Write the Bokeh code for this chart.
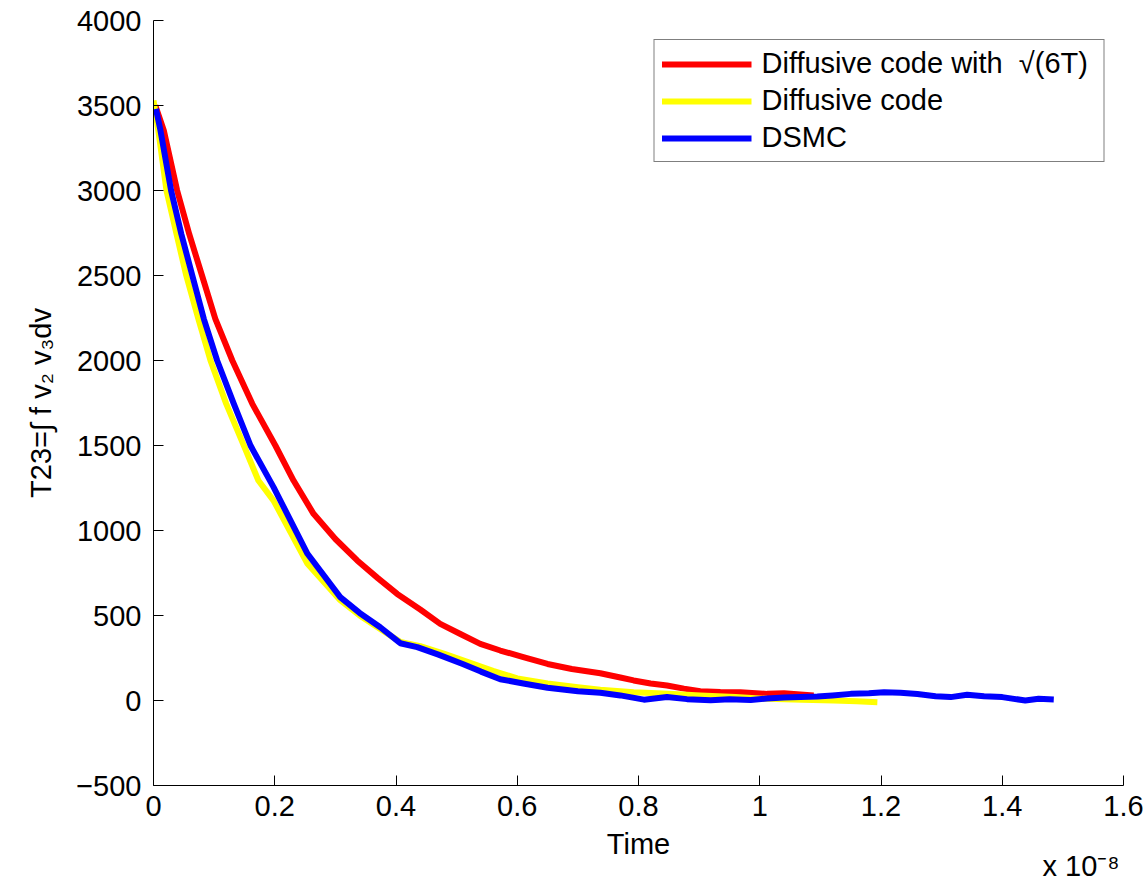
from bokeh.plotting import figure
from bokeh.models import Range1d, FixedTicker, Title, Legend, LegendItem
from bokeh.embed import file_html
from bokeh.resources import INLINE

# Time in units of 1e-8 s
red_t = [0.003, 0.017, 0.039, 0.059, 0.080, 0.102, 0.130, 0.163, 0.201, 0.231, 0.264, 0.300,
         0.336, 0.370, 0.402, 0.440, 0.473, 0.507, 0.539, 0.572, 0.610, 0.650, 0.690, 0.737,
         0.770, 0.792, 0.820, 0.847, 0.875, 0.902, 0.935, 0.968, 1.012, 1.040, 1.067, 1.089]
red_v = [3500, 3353, 3000, 2743, 2500, 2245, 2000, 1745, 1500, 1294, 1098, 950,
         824, 720, 627, 535, 451, 390, 333, 294, 255, 215, 185, 160,
         135, 118, 100, 88, 70, 55, 50, 49, 39, 42, 36, 30]

yellow_t = [0.0, 0.008, 0.0214, 0.038, 0.054, 0.074, 0.094, 0.120, 0.149, 0.173, 0.198, 0.254,
            0.308, 0.340, 0.374, 0.407, 0.440, 0.480, 0.520, 0.560, 0.600, 0.650, 0.700,
            0.737, 0.792, 0.850, 0.902, 0.960, 1.012, 1.070, 1.122, 1.160, 1.194]
yellow_v = [3530, 3353, 3000, 2743, 2500, 2245, 2000, 1745, 1500, 1294, 1176, 804,
            590, 500, 420, 345, 320, 275, 225, 175, 130, 100, 78,
            63, 49, 40, 29, 20, 10, 5, 0, -5, -10]

blue_t = [0.004, 0.0115, 0.029, 0.046, 0.064, 0.083, 0.105, 0.1325, 0.160, 0.198, 0.254,
          0.308, 0.340, 0.374, 0.407, 0.435, 0.470, 0.510, 0.540, 0.572, 0.610, 0.650,
          0.700, 0.737, 0.770, 0.809, 0.847, 0.880, 0.919, 0.950, 0.985, 1.012, 1.040,
          1.067, 1.095, 1.120, 1.150, 1.180, 1.205, 1.232, 1.260, 1.290, 1.315, 1.342,
          1.370, 1.400, 1.438, 1.460, 1.485]
blue_v = [3480, 3353, 3000, 2743, 2500, 2245, 2000, 1745, 1500, 1255, 863,
          608, 515, 431, 337, 314, 270, 215, 170, 125, 100, 75,
          55, 45, 30, 5, 20, 8, 2, 8, 3, 12, 18,
          20, 24, 30, 39, 42, 49, 45, 38, 25, 20, 34,
          25, 20, 0, 10, 6]

x_ticks = [0, 0.2, 0.4, 0.6, 0.8, 1.0, 1.2, 1.4, 1.6]
x_tick_labels = ["0", "0.2", "0.4", "0.6", "0.8", "1", "1.2", "1.4", "1.6"]
y_ticks = [-500, 0, 500, 1000, 1500, 2000, 2500, 3000, 3500, 4000]
y_tick_labels = ["\u2212500", "0", "500", "1000", "1500", "2000", "2500", "3000", "3500", "4000"]

FONT = "Liberation Sans"
FS = "29px"

p = figure(width=1146, height=879, output_backend="svg", toolbar_location=None,
           x_range=Range1d(0, 1.6), y_range=Range1d(-500, 4000),
           min_border_left=153, min_border_right=23, min_border_top=20, min_border_bottom=94)
p.outline_line_color = None
p.grid.visible = False
p.background_fill_color = "white"
p.border_fill_color = "white"

r_red = p.line(red_t, red_v, line_color="#ff0000", line_width=6, line_join="round")
r_yel = p.line(yellow_t, yellow_v, line_color="#ffff00", line_width=6, line_join="round")
r_blue = p.line(blue_t, blue_v, line_color="#0000ff", line_width=6, line_join="round")

for ax in (p.xaxis[0], p.yaxis[0]):
    ax.major_tick_in = 10
    ax.major_tick_out = 0
    ax.minor_tick_line_color = None
    ax.axis_line_color = "black"
    ax.major_tick_line_color = "black"
    ax.major_label_text_font = FONT
    ax.major_label_text_font_size = FS
    ax.major_label_text_color = "black"
    ax.axis_label_text_font = FONT
    ax.axis_label_text_font_size = FS
    ax.axis_label_text_font_style = "normal"
    ax.axis_label_text_color = "black"

p.xaxis.ticker = FixedTicker(ticks=x_ticks)
p.xaxis.major_label_overrides = {k: v for k, v in zip(x_ticks, x_tick_labels)}
p.yaxis.ticker = FixedTicker(ticks=y_ticks)
p.yaxis.major_label_overrides = {k: v for k, v in zip(y_ticks, y_tick_labels)}
p.xaxis.major_label_standoff = 10
p.yaxis.major_label_standoff = 12
p.xaxis.axis_label = "Time"
p.xaxis.axis_label_standoff = 9
p.yaxis.axis_label = "T23=\u222b f v\u2082 v\u2083dv"
p.yaxis.axis_label_standoff = 16

# "x 10^-8" multiplier in the panel below the x axis
p.add_layout(Title(text="x 10\u207b\u2078", align="right", standoff=-30, offset=4,
                   text_font=FONT, text_font_size=FS, text_font_style="normal",
                   text_color="black"), "below")

legend = Legend(items=[
    LegendItem(label="Diffusive code with  \u221a(6T)\u00a0", renderers=[r_red]),
    LegendItem(label="Diffusive code", renderers=[r_yel]),
    LegendItem(label="DSMC", renderers=[r_blue]),
], location="top_right")
legend.margin = 19
legend.padding = 7
legend.spacing = 4
legend.glyph_width = 90
legend.glyph_height = 30
legend.label_height = 30
legend.label_standoff = 10
legend.label_text_font = FONT
legend.label_text_font_size = FS
legend.label_text_color = "black"
legend.border_line_color = "black"
legend.border_line_width = 1
legend.background_fill_alpha = 1.0
p.add_layout(legend)

open("out.html", "w").write(file_html(p, INLINE))
